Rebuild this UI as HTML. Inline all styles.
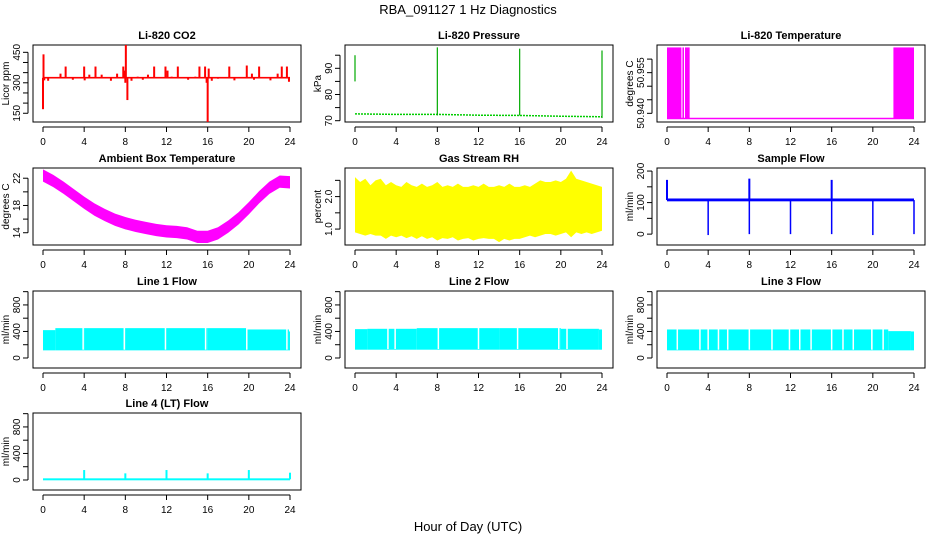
<!DOCTYPE html>
<html><head><meta charset="utf-8"><style>
html,body{margin:0;padding:0;background:#fff;}
svg{display:block;font-family:"Liberation Sans",sans-serif;}
</style></head><body>
<svg id="c" width="936" height="540" xmlns="http://www.w3.org/2000/svg">
<text x="468" y="14" text-anchor="middle" font-size="13">RBA_091127  1 Hz Diagnostics</text>
<text x="468" y="531" text-anchor="middle" font-size="13">Hour of Day (UTC)</text>
</svg>
<script>
// ---- data ----
var xTicks=[0,4,8,12,16,20,24];
var co2Base=[325,325];
var co2SpikeHours=[0,0.05,0.12,0.5,1.7,2.2,2.9,4,4.05,4.5,5.1,5.7,6.6,7.2,7.8,7.95,8,8.05,8.2,8.6,9.2,9.7,10.2,10.8,11.9,12.1,12.5,13.1,14.1,14.8,15.2,15.75,15.9,16,16.1,16.4,17,18.1,18.6,19.8,20.3,20.5,21,22.1,22.8,23.2,23.7,23.9];
var co2SpikeVals=[170,440,312,310,345,380,315,380,312,340,380,340,310,345,380,360,300,486,215,310,330,315,340,380,380,360,330,380,315,330,380,380,300,107,370,310,320,380,312,385,345,315,380,312,345,380,380,305];
var presBaseHours=[0,4,8,12,16,20,24];
var presBaseVals=[72.6,72.4,72.4,72.1,72.0,71.7,71.5];
var presSpikeHours=[0,8,16,24];
var presSpikeLow=[85,72,72,71];
var presSpikeHigh=[95,98,97.5,96.8];
var tempLow=50.9381, tempHigh=50.9643;
var tempBlockStart=[0,1.5,1.75,22];
var tempBlockEnd=[1.4,1.65,2.2,24];
var ambHours=[0,1,2,3,4,5,6,7,8,9,10,11,12,13,14,15,16,17,18,19,20,21,22,23,24];
var ambVals=[22.4,21.6,20.6,19.5,18.4,17.4,16.6,15.9,15.4,15.0,14.7,14.4,14.2,14.1,13.9,13.4,13.4,13.9,14.9,16.1,17.6,19.2,20.6,21.5,21.4];
var rhHours=[0,0.5,1,1.5,2,2.5,3,3.5,4,4.5,5,5.5,6,6.5,7,7.5,8,8.5,9,9.5,10,10.5,11,11.5,12,12.5,13,13.5,14,14.5,15,15.5,16,16.5,17,17.5,18,18.5,19,19.5,20,20.5,21,21.5,22,22.5,23,23.5,24];
var rhUpper=[2.6,2.45,2.55,2.35,2.5,2.55,2.35,2.45,2.35,2.3,2.45,2.35,2.3,2.4,2.3,2.35,2.45,2.3,2.35,2.3,2.4,2.3,2.3,2.35,2.3,2.4,2.3,2.3,2.35,2.3,2.4,2.3,2.3,2.35,2.3,2.4,2.5,2.45,2.45,2.5,2.45,2.55,2.8,2.55,2.5,2.45,2.4,2.35,2.3];
var rhLower=[0.9,0.85,0.8,0.85,0.8,0.8,0.7,0.8,0.75,0.8,0.72,0.78,0.7,0.78,0.7,0.75,0.65,0.72,0.7,0.75,0.65,0.7,0.72,0.65,0.7,0.72,0.7,0.7,0.6,0.7,0.65,0.7,0.7,0.75,0.8,0.75,0.8,0.85,0.85,0.8,0.85,0.9,0.75,0.9,0.85,0.9,0.85,0.9,0.95];
var flowBase=[108,108];
var flowSpikeHours=[0,8,16];
var flowSpikeVals=[172,176,172];
var flowDipHours=[4,8,12,16,20,24];
var flowDipVals=[-3,0,0,0,-3,0];
var l1Upper=[420,450,450,450,450,450,430,400];
var l1Hours=[0,1.2,4,8,12,16,19.8,23.9];
var l1Lower=115;
var l1Gaps=[3.9,7.9,11.9,15.8,19.8,23.7];
var l2Hours=[0,1.2,6,14,20,23.7];
var l2Upper=[435,440,450,450,440,430];
var l2Lower=125;
var l2Gaps=[3.2,3.9,8.1,12.0,15.8,19.8,20.6];
var l3Hours=[0,4,8,12,16,20,21.5,23.7];
var l3Upper=[430,430,430,430,430,430,405,400];
var l3Lower=115;
var l3Gaps=[1.0,3.2,4.0,5.0,5.9,8.0,10.2,11.9,12.9,14.0,16.0,17.1,18.1,19.9,21.0];
var l4SpikeHours=[4,8,12,16,20,24];
var l4SpikeVals=[150,100,150,100,150,110];
var l4Base=10;

// ---- layout ----
var svg=document.getElementById('c');
var NS='http://www.w3.org/2000/svg';
function mk(tag,attrs,parent){var e=document.createElementNS(NS,tag);for(var k in attrs)e.setAttribute(k,attrs[k]);(parent||svg).appendChild(e);return e;}
var colL=[33,345,657], rowT=[45,168,291,413], W=268, H=77;
function panel(col,row,title,ylab,ymin,ymax,yt,ylabs,name){
  var L=colL[col],T=rowT[row];
  var g=mk('g',{});
  
  
  var sx=function(h){return L+10+h/24*247;};
  var sy=function(v){return T+H-(v-ymin)/(ymax-ymin)*H;};
  var t=mk('text',{x:L+W/2,y:T-6,'text-anchor':'middle','font-size':11,'font-weight':'bold'},g);t.textContent=title;
  
  var fr=mk('rect',{x:L,y:T,width:W,height:H,fill:'none',stroke:'#000','stroke-width':1},g);
  
  var xa=mk('g',{},g);
  mk('line',{x1:sx(0),x2:sx(24),y1:T+H+5,y2:T+H+5,stroke:'#000'},xa);
  xTicks.forEach(function(h){mk('line',{x1:sx(h),x2:sx(h),y1:T+H+5,y2:T+H+10,stroke:'#000'},xa);
    var tx=mk('text',{x:sx(h),y:T+H+23,'text-anchor':'middle','font-size':10},xa);tx.textContent=h;});
  var ya=mk('g',{},g);
  mk('line',{x1:L-5,x2:L-5,y1:sy(yt[0]),y2:sy(yt[yt.length-1]),stroke:'#000'},ya);
  yt.forEach(function(v){mk('line',{x1:L-10,x2:L-5,y1:sy(v),y2:sy(v),stroke:'#000'},ya);});
  ylabs.forEach(function(v){var s=typeof v==='string'?v:String(v);var y=sy(parseFloat(s));
    var tx=mk('text',{x:L-13,y:y,'text-anchor':'middle','font-size':10,transform:'rotate(-90 '+(L-13)+' '+y+')'},ya);tx.textContent=s;});
  var yl=mk('text',{x:L-24,y:T+H/2,'text-anchor':'middle','font-size':10,transform:'rotate(-90 '+(L-24)+' '+(T+H/2)+')'},g);yl.textContent=ylab;
  
  var d=mk('g',{},g);
  return {sx:sx,sy:sy,g:d};
}
function band(p,hours,up,lo,color){
  var pts=[];for(var i=0;i<hours.length;i++)pts.push(p.sx(hours[i])+','+p.sy(up[i]));
  for(var j=hours.length-1;j>=0;j--)pts.push(p.sx(hours[j])+','+p.sy(lo[j]));
  mk('polygon',{points:pts.join(' '),fill:color},p.g);
}
function stepBand(p,hours,up,lo,end,color){
  for(var i=0;i<hours.length;i++){var h1=i<hours.length-1?hours[i+1]:end;
    mk('rect',{x:p.sx(hours[i]),y:p.sy(up[i]),width:p.sx(h1)-p.sx(hours[i]),height:p.sy(lo)-p.sy(up[i]),fill:color},p.g);}
}
function vline(p,h,a,b,color,w){mk('line',{x1:p.sx(h),x2:p.sx(h),y1:p.sy(a),y2:p.sy(b),stroke:color,'stroke-width':w||1.5},p.g);}

// CO2
var p=panel(0,0,'Li-820 CO2','Licor ppm',107,486,[150,200,250,300,350,400,450],['150','300','450'],'co2');
mk('rect',{x:p.sx(0),y:p.sy(co2Base[1]+4),width:p.sx(24)-p.sx(0),height:p.sy(co2Base[0]-4)-p.sy(co2Base[1]+4),fill:'#f00'},p.g);
co2SpikeHours.forEach(function(h,i){vline(p,h,co2Base[0],co2SpikeVals[i],'#f00',2);});
// Pressure
p=panel(1,0,'Li-820 Pressure','kPa',69.5,98.9,[70,75,80,85,90,95],['70','80','90'],'pressure');
var pp=presBaseHours.map(function(h,i){return p.sx(h)+','+p.sy(presBaseVals[i]);}).join(' ');
mk('polyline',{points:pp,fill:'none',stroke:'#0c0','stroke-width':1.5,'stroke-dasharray':'2,1'},p.g);
presSpikeHours.forEach(function(h,i){vline(p,h,presSpikeLow[i],presSpikeHigh[i],'#0a0',1.2);});
// Temperature
p=panel(2,0,'Li-820 Temperature','degrees C',50.9368,50.9652,[50.940,50.945,50.950,50.955,50.960],['50.940','50.955'],'li820-temp');
mk('line',{x1:p.sx(0),x2:p.sx(24),y1:p.sy(tempLow),y2:p.sy(tempLow),stroke:'#f0f','stroke-width':1.5},p.g);
tempBlockStart.forEach(function(s,i){mk('rect',{x:p.sx(s),y:p.sy(tempHigh),width:p.sx(tempBlockEnd[i])-p.sx(s),height:p.sy(tempLow)-p.sy(tempHigh),fill:'#f0f'},p.g);});
// Ambient
p=panel(0,1,'Ambient Box Temperature','degrees C',12.2,23.5,[14,16,18,20,22],['14','18','22'],'ambient-temp');
band(p,ambHours,ambVals.map(function(v){return v+0.9;}),ambVals.map(function(v){return v-0.9;}),'#f0f');
// RH
p=panel(1,1,'Gas Stream RH','percent',0.51,2.88,[1.0,1.5,2.0,2.5],['1.0','2.0'],'rh');
band(p,rhHours,rhUpper,rhLower,'#ff0');
// Sample flow
p=panel(2,1,'Sample Flow','ml/min',-34.5,209.7,[0,50,100,150,200],['0','100','200'],'sample-flow');
mk('rect',{x:p.sx(0),y:p.sy(flowBase[1]+5),width:p.sx(24)-p.sx(0),height:p.sy(flowBase[0]-4)-p.sy(flowBase[1]+5),fill:'#00f'},p.g);
flowSpikeHours.forEach(function(h,i){vline(p,h,flowBase[0],flowSpikeVals[i],'#00f',2);});
flowDipHours.forEach(function(h,i){vline(p,h,flowBase[0],flowDipVals[i],'#00f',1.5);});
// Line flows
var lf=[[0,2,'Line 1 Flow',l1Hours,l1Upper,l1Lower,l1Gaps,'line1-flow',24],[1,2,'Line 2 Flow',l2Hours,l2Upper,l2Lower,l2Gaps,'line2-flow',24],[2,2,'Line 3 Flow',l3Hours,l3Upper,l3Lower,l3Gaps,'line3-flow',24]];
lf.forEach(function(c){
  var q=panel(c[0],c[1],c[2],'ml/min',-151,1010,[0,200,400,600,800,1000],['0','400','800'],c[7]);
  stepBand(q,c[3],c[4],c[5],c[8],'#0ff');
  c[6].forEach(function(h){vline(q,h,c[5]+10,600,'#fff',1.5);});
});
// Line 4
p=panel(0,3,'Line 4 (LT) Flow','ml/min',-151,1010,[0,200,400,600,800,1000],['0','400','800'],'line4-flow');
mk('rect',{x:p.sx(0),y:p.sy(l4Base+15),width:p.sx(24)-p.sx(0),height:p.sy(l4Base-15)-p.sy(l4Base+15),fill:'#0ff'},p.g);
l4SpikeHours.forEach(function(h,i){vline(p,h,l4Base,l4SpikeVals[i],'#0ff',2);});
</script>
</body></html>
